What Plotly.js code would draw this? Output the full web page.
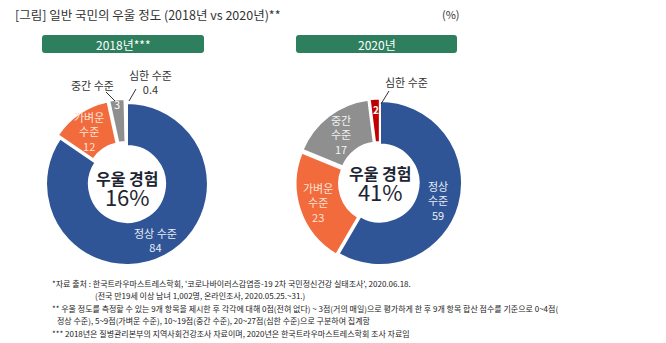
<!DOCTYPE html>
<html><head><meta charset="utf-8">
<script src="https://cdn.plot.ly/plotly-3.0.1.min.js"></script>
<style>html,body{margin:0;padding:0;background:#fff;}#c{width:666px;height:343px;}</style>
</head><body><div id="c"></div>
<script>
// ---- data ----
const levels = ['정상 수준', '가벼운 수준', '중간 수준', '심한 수준'];
const years = ['2018년***', '2020년'];
const values2018 = [84, 12, 3, 0.4];
const values2020 = [59, 23, 17, 2];
const experienced = [16, 41];   // 우울 경험 (%)
const centerLabel = '우울 경험';
const colors = ['#2F5597', '#F26B3D', '#8F8F8F', '#C00000'];
const titleText = '[그림] 일반 국민의 우울 정도 (2018년 vs 2020년)**';
const unitText = '(%)';
const notes = [
  "*자료 출처 : 한국트라우마스트레스학회, '코로나바이러스감염증-19 2차 국민정신건강 실태조사', 2020.06.18.",
  "(전국 만19세 이상 남녀 1,002명, 온라인조사, 2020.05.25.~31.)",
  "** 우울 정도를 측정할 수 있는 9개 항목을 제시한 후 각각에 대해 0점(전혀 없다) ~ 3점(거의 매일)으로 평가하게 한 후 9개 항목 합산 점수를 기준으로 0~4점(",
  "정상 수준), 5~9점(가벼운 수준), 10~19점(중간 수준), 20~27점(심한 수준)으로 구분하여 집계함",
  "*** 2018년은 질병관리본부의 지역사회건강조사 자료이며, 2020년은 한국트라우마스트레스학회 조사 자료임"
];

const W = 666, H = 343;
const px = x => x / W;
const py = y => 1 - y / H;
const FONT = '"Noto Sans CJK KR", "Noto Sans", sans-serif';
const split = s => s.replace(' ', '<br>');

const pieBase = {
  type: 'pie', labels: levels, sort: false, direction: 'clockwise', rotation: 0,
  hole: 0.47, textinfo: 'none', hoverinfo: 'skip',
  marker: {colors: colors, line: {color: '#ffffff', width: 2}},
  showlegend: false
};

const traces = [
  Object.assign({}, pieBase, {
    values: values2018,
    pull: [0, 0.05, 0.05, 0.05],
    domain: {x: [px(42), px(212)], y: [py(269), py(99)]}
  }),
  Object.assign({}, pieBase, {
    values: values2020,
    pull: [0, 0.03, 0.03, 0.03],
    domain: {x: [px(295.5), px(464.5)], y: [py(267.5), py(98.5)]}
  })
];

function roundRect(x0, y0, x1, y1, r) {
  const rx = r / W, ry = r / H;
  const X0 = px(x0), X1 = px(x1), Y0 = py(y0), Y1 = py(y1);
  return `M${X0 + rx},${Y0} L${X1 - rx},${Y0} Q${X1},${Y0} ${X1},${Y0 - ry} L${X1},${Y1 + ry} Q${X1},${Y1} ${X1 - rx},${Y1} L${X0 + rx},${Y1} Q${X0},${Y1} ${X0},${Y1 + ry} L${X0},${Y0 - ry} Q${X0},${Y0} ${X0 + rx},${Y0} Z`;
}

const shapes = [
  {type: 'path', xref: 'paper', yref: 'paper', path: roundRect(42, 35, 204, 53, 3), fillcolor: '#2E7F5E', line: {width: 0}},
  {type: 'path', xref: 'paper', yref: 'paper', path: roundRect(296, 35, 457, 53, 3), fillcolor: '#2E7F5E', line: {width: 0}},
  {type: 'line', xref: 'paper', yref: 'paper', x0: px(106), y0: py(92), x1: px(116), y1: py(102), line: {color: '#333', width: 1}},
  {type: 'line', xref: 'paper', yref: 'paper', x0: px(136), y0: py(89), x1: px(129), y1: py(101), line: {color: '#333', width: 1}},
  {type: 'line', xref: 'paper', yref: 'paper', x0: px(389), y0: py(91), x1: px(381), y1: py(104), line: {color: '#333', width: 1}}
];

const ann = (x, y, text, size, color, extra) => Object.assign({
  xref: 'paper', yref: 'paper', x: px(x), y: py(y), text: text, showarrow: false,
  xanchor: 'center', yanchor: 'middle', font: {family: FONT, size: size, color: color}
}, extra || {});

const centerText = v => '<b>' + centerLabel + '</b><br><span style="font-size:22px">' + v + '%</span>';

const annotations = [
  ann(13, 14, titleText, 12.5, '#333', {xanchor: 'left'}),
  ann(451, 14, unitText, 11, '#333'),
  ann(123, 44, years[0], 12, '#ffffff'),
  ann(376.5, 44, years[1], 12, '#ffffff'),
  // 2018 slice labels
  ann(155, 240, levels[0] + '<br>' + values2018[0], 11, '#E8EDF6'),
  ann(89, 131, split(levels[1]) + '<br>' + values2018[1], 11, '#FFE2D6'),
  ann(117, 104, String(values2018[2]), 11, '#ffffff'),
  ann(93, 85, levels[2], 11, '#333'),
  ann(150, 82, levels[3] + '<br>' + values2018[3], 11, '#333'),
  // 2020 slice labels
  ann(438, 200, split(levels[0]) + '<br>' + values2020[0], 11, '#E8EDF6'),
  ann(318, 202, split(levels[1]) + '<br>' + values2020[1], 11, '#FFE2D6'),
  ann(341, 134, split(levels[2]) + '<br>' + values2020[2], 11, '#F2F2F2'),
  ann(376, 110, '<b>' + values2020[3] + '</b>', 10, '#ffffff'),
  ann(406, 82, levels[3], 11, '#333'),
  // centers
  ann(127, 189, centerText(experienced[0]), 16, '#1e2532'),
  ann(380, 184, centerText(experienced[1]), 16, '#1e2532'),
  // notes
  ann(50, 283, notes[0], 8, '#222', {xanchor: 'left'}),
  ann(93, 295, notes[1], 8, '#222', {xanchor: 'left'}),
  ann(50, 308, notes[2], 8, '#222', {xanchor: 'left'}),
  ann(55, 320, notes[3], 8, '#222', {xanchor: 'left'}),
  ann(50, 333, notes[4], 8, '#222', {xanchor: 'left'})
];

const layout = {
  width: W, height: H, margin: {l: 0, r: 0, t: 0, b: 0},
  paper_bgcolor: '#ffffff', plot_bgcolor: '#ffffff',
  font: {family: FONT}, shapes: shapes, annotations: annotations, hovermode: false
};

Plotly.newPlot('c', traces, layout, {staticPlot: true, displayModeBar: false});
</script>
</body></html>
